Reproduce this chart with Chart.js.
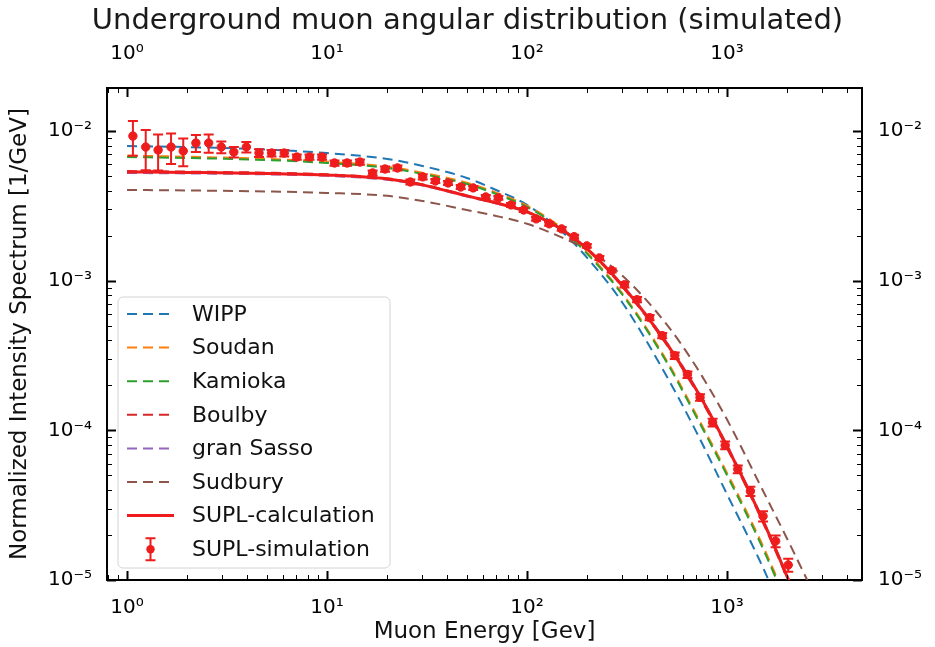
<!DOCTYPE html>
<html>
<head>
<meta charset="utf-8">
<script src="https://cdn.jsdelivr.net/npm/chart.js@4.4.0/dist/chart.umd.min.js"></script>
<style>
  html, body { margin: 0; padding: 0; background: #fff; }
</style>
</head>
<body>
<canvas id="chart" width="935" height="647"></canvas>
<script>
// energies (GeV) where the model curves were read
const curveEnergy = [1, 2, 5, 10, 20, 30, 50, 70, 100, 150, 200, 300, 500, 700, 1000, 1500, 2000, 2500, 3000, 4000];

const wipp      = [0.00794, 0.00782, 0.00753, 0.00713, 0.00651, 0.00585, 0.00486, 0.00404, 0.00321, 0.00212, 0.00142, 0.000713, 0.000229, 9.85e-5, 3.74e-5, 1.24e-5, 5.09e-6, 2.47e-6, 1.34e-6, 5.09e-7];
const soudan    = [0.00685, 0.00674, 0.00652, 0.00624, 0.00578, 0.00527, 0.00452, 0.00388, 0.00317, 0.00223, 0.00154, 0.00082, 0.000292, 0.000128, 5.2e-5, 1.73e-5, 7.1e-6, 3.45e-6, 1.87e-6, 7.1e-7];
const kamioka   = [0.00671, 0.00661, 0.0064, 0.00612, 0.00567, 0.00517, 0.00443, 0.0038, 0.00311, 0.00219, 0.00151, 0.000806, 0.000284, 0.000124, 5.01e-5, 1.66e-5, 6.81e-6, 3.31e-6, 1.79e-6, 6.81e-7];
const boulby    = [0.0054, 0.00536, 0.00527, 0.00514, 0.00483, 0.00441, 0.00371, 0.00333, 0.00289, 0.00219, 0.00162, 0.00091, 0.000372, 0.000183, 7.6e-5, 2.48e-5, 1.02e-5, 4.85e-6, 2.67e-6, 9.9e-7];
const granSasso = [0.00525, 0.00521, 0.00514, 0.00502, 0.00473, 0.00433, 0.00365, 0.00328, 0.00286, 0.00218, 0.00163, 0.000935, 0.000385, 0.000191, 7.95e-5, 2.6e-5, 1.07e-5, 5.1e-6, 2.8e-6, 1.04e-6];
const sudbury   = [0.00404, 0.00401, 0.00395, 0.00386, 0.00369, 0.00341, 0.00297, 0.00271, 0.0024, 0.00194, 0.00161, 0.00108, 0.000509, 0.000267, 0.000118, 4.04e-5, 1.88e-5, 1.02e-5, 6.21e-6, 2.63e-6];
const suplCalc  = [0.00533, 0.00529, 0.00521, 0.00509, 0.00479, 0.00437, 0.00369, 0.00331, 0.00288, 0.00219, 0.00163, 0.000926, 0.00038, 0.000188, 7.82e-5, 2.55e-5, 1.05e-5, 5.0e-6, 2.75e-6, 1.02e-6];

// simulated points (bin centres, value, relative error)
const simEnergy = [1.07, 1.24, 1.43, 1.66, 1.91, 2.21, 2.56, 2.96, 3.42, 3.95, 4.57, 5.28, 6.11, 7.06, 8.17, 9.44,
  10.9, 12.6, 14.6, 16.9, 19.5, 22.5, 26.1, 30.1, 34.8, 40.3, 46.6, 53.8, 62.2, 71.9, 83.2, 96.2,
  111, 129, 149, 172, 199, 230, 265, 307, 355, 410, 474, 548, 634, 733, 847, 979,
  1132, 1309, 1514, 1750, 2023];
const simValue = [0.00926, 0.00782, 0.00747, 0.00782, 0.00736, 0.00832, 0.00832, 0.00782, 0.00724, 0.00782,
  0.00713, 0.00713, 0.00713, 0.00671, 0.00671, 0.00671, 0.00612, 0.00612, 0.00621, 0.00525,
  0.00558, 0.00567, 0.00457, 0.00494, 0.00464, 0.0045, 0.00423, 0.00417, 0.00363, 0.00358,
  0.00321, 0.00297, 0.00259, 0.0024, 0.00222, 0.00197, 0.00171, 0.00142, 0.00117, 0.00094,
  0.000747, 0.000567, 0.00043, 0.000316, 0.000236, 0.000166, 0.000113, 7.94e-5, 5.5e-5, 3.92e-5,
  2.67e-5, 1.82e-5, 1.26e-5];
const simErr = [0.26, 0.30, 0.27, 0.23, 0.21, 0.13, 0.14, 0.09, 0.08, 0.08,
  0.06, 0.05, 0.05, 0.04, 0.04, 0.04, 0.04, 0.04, 0.04, 0.04,
  0.04, 0.04, 0.04, 0.04, 0.03, 0.03, 0.03, 0.03, 0.03, 0.03,
  0.03, 0.03, 0.03, 0.03, 0.03, 0.03, 0.03, 0.03, 0.03, 0.04,
  0.04, 0.04, 0.04, 0.05, 0.05, 0.05, 0.06, 0.06, 0.06, 0.07,
  0.08, 0.09, 0.10];

const xTicks = [1, 10, 100, 1000];
const xTickLabels = ['10⁰', '10¹', '10²', '10³'];
const yTicks = [1e-5, 1e-4, 1e-3, 1e-2];
const yTickLabels = ['10⁻⁵', '10⁻⁴', '10⁻³', '10⁻²'];

const X_MIN = 0.794, X_MAX = 4730, Y_MIN = 1e-5, Y_MAX = 0.0194;
const FONT = 'DejaVu Sans';

// minor tick positions (2..9 times each decade)
const xMinor = [], yMinor = [];
[0.1, 1, 10, 100, 1000].forEach(d => { for (let m = 2; m <= 9; m++) xMinor.push(d * m); });
[1e-5, 1e-4, 1e-3, 1e-2].forEach(d => { for (let m = 2; m <= 9; m++) yMinor.push(d * m); });

const pts = (xs, ys) => xs.map((x, i) => ({ x: x, y: ys[i] }));

const curve = (label, values, color, dashed, order) => ({
  label: label,
  data: pts(curveEnergy, values),
  borderColor: color,
  backgroundColor: color,
  borderWidth: dashed ? 2 : 3,
  borderDash: dashed ? [10, 6] : [],
  pointRadius: 0,
  fill: false,
  cubicInterpolationMode: 'monotone',
  order: order
});

const datasets = [
  curve('WIPP', wipp, '#1f77b4', true, 7),
  curve('Soudan', soudan, '#ff7f0e', true, 6),
  curve('Kamioka', kamioka, '#2ca02c', true, 5),
  curve('Boulby', boulby, '#d62728', true, 4),
  curve('gran Sasso', granSasso, '#9467bd', true, 3),
  curve('Sudbury', sudbury, '#8c564b', true, 2),
  curve('SUPL-calculation', suplCalc, '#ee1c1c', false, 1),
  {
    label: 'SUPL-simulation',
    data: pts(simEnergy, simValue),
    showLine: false,
    pointRadius: 4.2,
    pointBackgroundColor: '#ee1c1c',
    pointBorderColor: '#ee1c1c',
    borderColor: '#ee1c1c',
    order: 0
  }
];

// error bars under the simulation markers
const errorBars = {
  id: 'errorBars',
  beforeDatasetDraw(chart, args) {
    if (chart.data.datasets[args.index].label !== 'SUPL-simulation') return;
    const { ctx, chartArea: a, scales: { x, y } } = chart;
    ctx.save();
    ctx.beginPath();
    ctx.rect(a.left, a.top, a.right - a.left, a.bottom - a.top);
    ctx.clip();
    ctx.strokeStyle = '#ee1c1c';
    ctx.lineWidth = 2;
    simEnergy.forEach((e, i) => {
      const px = x.getPixelForValue(e);
      const hi = y.getPixelForValue(simValue[i] * (1 + simErr[i]));
      const lo = y.getPixelForValue(simValue[i] * (1 - simErr[i]));
      ctx.beginPath();
      ctx.moveTo(px, hi); ctx.lineTo(px, lo);
      ctx.moveTo(px - 5, hi); ctx.lineTo(px + 5, hi);
      ctx.moveTo(px - 5, lo); ctx.lineTo(px + 5, lo);
      ctx.stroke();
    });
    ctx.restore();
  }
};

// inward ticks on all four sides
const inTicks = {
  id: 'inTicks',
  afterDraw(chart) {
    const { ctx, chartArea: a, scales: { x, y } } = chart;
    ctx.save();
    ctx.strokeStyle = '#000';
    const xMark = (v, len, w) => {
      if (v < X_MIN || v > X_MAX) return;
      const p = Math.round(x.getPixelForValue(v)) + 0.5;
      ctx.lineWidth = w;
      ctx.beginPath();
      ctx.moveTo(p, a.bottom); ctx.lineTo(p, a.bottom - len);
      ctx.moveTo(p, a.top); ctx.lineTo(p, a.top + len);
      ctx.stroke();
    };
    const yMark = (v, len, w) => {
      if (v < Y_MIN || v > Y_MAX) return;
      const p = Math.round(y.getPixelForValue(v)) + 0.5;
      ctx.lineWidth = w;
      ctx.beginPath();
      ctx.moveTo(a.left, p); ctx.lineTo(a.left + len, p);
      ctx.moveTo(a.right, p); ctx.lineTo(a.right - len, p);
      ctx.stroke();
    };
    xMinor.forEach(v => xMark(v, 5, 1));
    yMinor.forEach(v => yMark(v, 5, 1));
    xTicks.forEach(v => xMark(v, 9, 2));
    yTicks.forEach(v => yMark(v, 9, 2));
    ctx.restore();
  }
};

// legend box in the lower left corner of the axes
const boxLegend = {
  id: 'boxLegend',
  afterDatasetsDraw(chart) {
    const { ctx, chartArea: a } = chart;
    const bw = 272, bh = 271;
    const bx = a.left + 11, by = a.bottom - 12 - bh, r = 5;
    ctx.save();
    ctx.beginPath();
    ctx.moveTo(bx + r, by);
    ctx.lineTo(bx + bw - r, by); ctx.arcTo(bx + bw, by, bx + bw, by + r, r);
    ctx.lineTo(bx + bw, by + bh - r); ctx.arcTo(bx + bw, by + bh, bx + bw - r, by + bh, r);
    ctx.lineTo(bx + r, by + bh); ctx.arcTo(bx, by + bh, bx, by + bh - r, r);
    ctx.lineTo(bx, by + r); ctx.arcTo(bx, by, bx + r, by, r);
    ctx.closePath();
    ctx.fillStyle = 'rgba(255,255,255,0.8)';
    ctx.fill();
    ctx.strokeStyle = '#d4d4d4';
    ctx.lineWidth = 1;
    ctx.stroke();

    ctx.font = '22px "' + FONT + '"';
    ctx.textBaseline = 'middle';
    chart.data.datasets.forEach((ds, i) => {
      const cy = by + 17 + i * 33.6;
      const x0 = bx + 9, x1 = bx + 56, xm = (x0 + x1) / 2;
      ctx.strokeStyle = ds.borderColor;
      if (ds.showLine === false) {
        ctx.setLineDash([]);
        ctx.lineWidth = 2;
        ctx.beginPath();
        ctx.moveTo(xm, cy - 11); ctx.lineTo(xm, cy + 11);
        ctx.moveTo(xm - 5, cy - 11); ctx.lineTo(xm + 5, cy - 11);
        ctx.moveTo(xm - 5, cy + 11); ctx.lineTo(xm + 5, cy + 11);
        ctx.stroke();
        ctx.fillStyle = ds.pointBackgroundColor;
        ctx.beginPath();
        ctx.arc(xm, cy, 4.2, 0, Math.PI * 2);
        ctx.fill();
      } else {
        ctx.setLineDash(ds.borderDash);
        ctx.lineWidth = ds.borderWidth;
        ctx.beginPath();
        ctx.moveTo(x0, cy); ctx.lineTo(x1, cy);
        ctx.stroke();
        ctx.setLineDash([]);
      }
      ctx.fillStyle = '#111';
      ctx.fillText(ds.label, bx + 74, cy + 1);
    });
    ctx.restore();
  }
};

const logTicks = (vals) => (s) => { s.ticks = vals.map(v => ({ value: v })); };
const tickFont = { family: FONT, size: 20 };
const border = { display: true, color: '#000', width: 2 };

new Chart(document.getElementById('chart'), {
  type: 'line',
  data: { datasets: datasets },
  plugins: [errorBars, inTicks, boxLegend],
  options: {
    responsive: false,
    animation: false,
    layout: { padding: 0 },
    plugins: {
      legend: { display: false },
      tooltip: { enabled: false },
      title: {
        display: true,
        text: 'Underground muon angular distribution (simulated)',
        font: { family: FONT, size: 29, weight: 'normal', lineHeight: 1 },
        color: '#1a1a1a',
        padding: { top: 7, bottom: 0 }
      }
    },
    scales: {
      x: {
        type: 'logarithmic', position: 'bottom', min: X_MIN, max: X_MAX,
        afterBuildTicks: logTicks(xTicks),
        afterFit: s => { s.height = 67; },
        grid: { display: false }, border: border,
        ticks: { callback: (v, i) => xTickLabels[i], font: tickFont, color: '#000', padding: 8, maxRotation: 0, autoSkip: false },
        title: { display: true, text: 'Muon Energy [Gev]', font: { family: FONT, size: 23 }, color: '#111', padding: { top: 0, bottom: 1 } }
      },
      x2: {
        type: 'logarithmic', position: 'top', min: X_MIN, max: X_MAX,
        afterBuildTicks: logTicks(xTicks),
        afterFit: s => { s.height = 52; },
        grid: { display: false }, border: border,
        ticks: { callback: (v, i) => xTickLabels[i], font: tickFont, color: '#000', padding: 14, maxRotation: 0, autoSkip: false }
      },
      y: {
        type: 'logarithmic', position: 'left', min: Y_MIN, max: Y_MAX,
        afterBuildTicks: logTicks(yTicks),
        afterFit: s => { s.width = 107; },
        grid: { display: false }, border: border,
        ticks: { callback: (v, i) => yTickLabels[i], font: tickFont, color: '#000', padding: 7, autoSkip: false },
        title: { display: true, text: 'Normalized Intensity Spectrum [1/GeV]', font: { family: FONT, size: 23 }, color: '#111', padding: { top: 6, bottom: 0 } }
      },
      y2: {
        type: 'logarithmic', position: 'right', min: Y_MIN, max: Y_MAX,
        afterBuildTicks: logTicks(yTicks),
        afterFit: s => { s.width = 73; },
        grid: { display: false }, border: border,
        ticks: { callback: (v, i) => yTickLabels[i], font: tickFont, color: '#000', padding: 8, autoSkip: false }
      }
    }
  }
});
</script>
</body>
</html>
